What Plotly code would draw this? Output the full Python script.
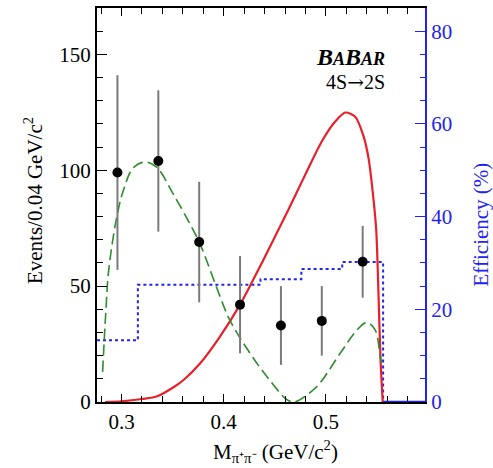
import plotly.graph_objects as go

# ---- data ----
bin_centers = [0.296, 0.336, 0.376, 0.416, 0.456, 0.496, 0.536]
events = [99, 104, 69, 42, 33, 35, 60.5]
events_err = [42, 30.5, 26, 21, 17, 15, 15.5]

eff_edges = [0.276, 0.316, 0.356, 0.396, 0.436, 0.476, 0.516, 0.556]
eff_vals = [13.3, 25.3, 25.3, 25.3, 26.5, 28.7, 30.2]

red_x = [0.284, 0.300, 0.320, 0.335, 0.352, 0.361, 0.377, 0.396, 0.416, 0.4373, 0.4633,
         0.4797, 0.4961, 0.5091, 0.519, 0.5287, 0.5369, 0.5418, 0.5467, 0.5493, 0.5516,
         0.5535, 0.5556]
red_y = [0, 0.3, 1.3, 2.5, 6.7, 9.6, 16.7, 28, 42, 60, 83,
         98, 112.5, 121, 124.9, 123.1, 114.6, 105, 87, 74, 45,
         18, 0]

green_x = [0.2815, 0.2845, 0.2875, 0.2950, 0.3016, 0.3114, 0.3230, 0.3344, 0.3508, 0.3671,
           0.3770, 0.3966, 0.4060, 0.4258, 0.4422, 0.4618, 0.4680, 0.4716, 0.4912, 0.5140,
           0.5303, 0.5400, 0.5483, 0.5532, 0.5545]
green_y = [13, 38, 57, 79, 91, 101, 103.6, 101.3, 89.6, 76.7,
           68, 45.3, 35.3, 21, 11, 1, 0, 0.3, 6.7, 21,
           31, 34.3, 31, 19.5, 17]

x_range = [0.276, 0.597]
ev_range = [0, 170]
eff_range = [0, 85]

BLUE = "#2323f0"
FONT = "Liberation Serif"

fig = go.Figure()

# efficiency histogram (right axis, base y)
fig.add_trace(go.Scatter(
    x=eff_edges, y=eff_vals + [0], mode="lines", line_shape="hv",
    line=dict(color=BLUE, width=2, dash="dot"), yaxis="y", showlegend=False,
    hoverinfo="skip"))

# red curve
fig.add_trace(go.Scatter(
    x=red_x, y=red_y, mode="lines", line_shape="spline", line_smoothing=0.8,
    line=dict(color="#e8202a", width=2.2), yaxis="y2", showlegend=False))

# green dashed curve
fig.add_trace(go.Scatter(
    x=green_x, y=green_y, mode="lines", line_shape="spline",
    line=dict(color="#2e8b2e", width=1.6, dash="11px,5px"), yaxis="y2", showlegend=False))

# data points
fig.add_trace(go.Scatter(
    x=bin_centers, y=events, mode="markers",
    marker=dict(color="black", size=10),
    error_y=dict(type="data", array=events_err, color="#7a7a7a", thickness=2, width=0),
    yaxis="y2", showlegend=False))

fig.update_layout(
    width=493, height=468,
    margin=dict(l=97, r=68, t=6, b=66),
    paper_bgcolor="white", plot_bgcolor="white",
    font=dict(family=FONT, size=21, color="black"),
    xaxis=dict(
        range=x_range, showgrid=False, zeroline=False,
        showline=True, linecolor="black", linewidth=2, mirror="ticks",
        ticks="inside", ticklen=8, tickwidth=1.2, tickcolor="black",
        tick0=0, dtick=0.1, tickformat=".1f",
        minor=dict(ticks="inside", ticklen=6, tickwidth=1.2, tickcolor="black", dtick=0.02, tick0=0),
        tickfont=dict(size=21),
    ),
    yaxis=dict(
        range=eff_range, side="right", showgrid=False, zeroline=False,
        showline=True, linecolor=BLUE, linewidth=2,
        ticks="inside", ticklen=10, tickwidth=1.2, tickcolor=BLUE,
        tick0=0, dtick=20,
        minor=dict(ticks="inside", ticklen=5, tickwidth=1.2, tickcolor=BLUE, dtick=5),
        tickfont=dict(size=21, color=BLUE),
    ),
    yaxis2=dict(
        range=ev_range, side="left", overlaying="y", showgrid=False, zeroline=False,
        showline=True, linecolor="black", linewidth=2,
        ticks="inside", ticklen=10, tickwidth=1.2, tickcolor="black",
        tick0=0, dtick=50,
        minor=dict(ticks="inside", ticklen=6, tickwidth=1.2, tickcolor="black", dtick=10),
        tickfont=dict(size=21),
    ),
)

# blue baseline segment beyond the efficiency histogram
fig.add_shape(type="line", xref="x", yref="y", x0=eff_edges[-1], x1=x_range[1], y0=0, y1=0,
              line=dict(color=BLUE, width=2.5), layer="above")

# titles and labels
fig.add_annotation(text="Events/0.04 GeV/c<sup>2</sup>", xref="paper", yref="paper",
                   x=-0.195, y=0.51, textangle=-90, showarrow=False,
                   font=dict(size=21, family=FONT), xanchor="center", yanchor="middle")
fig.add_annotation(text="Efficiency (%)", xref="paper", yref="paper",
                   x=1.17, y=0.45, textangle=-90, showarrow=False,
                   font=dict(size=21, family=FONT, color=BLUE), xanchor="center", yanchor="middle")
fig.add_annotation(text="M<sub>π⁺π⁻</sub> (GeV/c<sup>2</sup>)", xref="paper", yref="paper",
                   x=0.545, y=-0.125, showarrow=False,
                   font=dict(size=21, family=FONT), xanchor="center", yanchor="middle")
fig.add_annotation(text="<b><i>B<span style='font-size:18px'>A</span>B<span style='font-size:18px'>AR</span></i></b>",
                   xref="paper", yref="paper", x=0.885, y=0.876, showarrow=False,
                   font=dict(size=24, family=FONT), xanchor="right", yanchor="middle")
fig.add_annotation(text="4S<span style='font-family:DejaVu Serif'>→</span>2S", xref="paper", yref="paper",
                   x=0.885, y=0.813, showarrow=False,
                   font=dict(size=20, family=FONT), xanchor="right", yanchor="middle")

fig.write_html("out.html")
